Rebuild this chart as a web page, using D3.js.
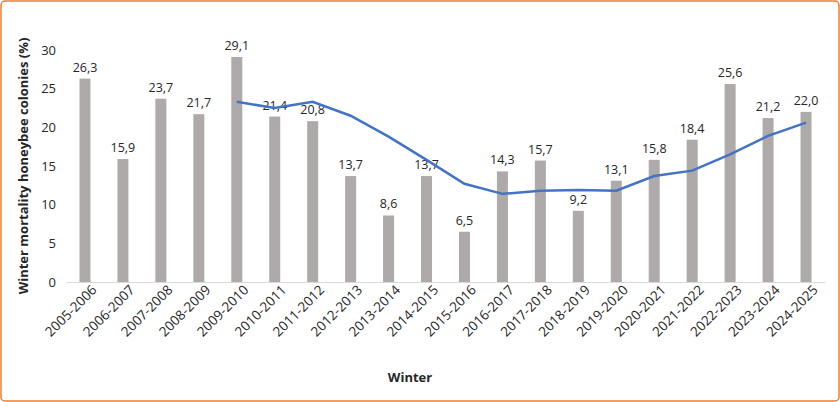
<!DOCTYPE html>
<html><head><meta charset="utf-8">
<script src="https://cdn.jsdelivr.net/npm/d3@7"></script>
<style>body{margin:0;background:#fff}text{font-family:"Open Sans",Arial,sans-serif}</style>
</head><body><svg id="chart" width="840" height="402"></svg>
<script>
// Winter mortality data
const winters = ["2005-2006","2006-2007","2007-2008","2008-2009","2009-2010","2010-2011","2011-2012","2012-2013","2013-2014","2014-2015","2015-2016","2016-2017","2017-2018","2018-2019","2019-2020","2020-2021","2021-2022","2022-2023","2023-2024","2024-2025"];
const mortality = [26.3,15.9,23.7,21.7,29.1,21.4,20.8,13.7,8.6,13.7,6.5,14.3,15.7,9.2,13.1,15.8,18.4,25.6,21.2,22.0];
const trendWinters = winters.slice(4);
const trend = [23.3,22.5,23.3,21.5,18.8,15.8,12.7,11.4,11.8,11.9,11.8,13.7,14.4,16.5,18.9,20.6];
const yTicks = [0,5,10,15,20,25,30];

const svg = d3.select("#chart");
svg.append("rect").attr("x",1).attr("y",1).attr("width",838).attr("height",400)
    .attr("rx",4).attr("fill","#fff").attr("stroke","#ed7d31").attr("stroke-width",1.5);

const x = d3.scaleBand().domain(winters).range([66, 825]).paddingInner(0.71).paddingOuter(0.355);
const y = d3.scaleLinear().domain([0, 30]).range([282, 50]);

// bars
svg.selectAll("rect.bar").data(winters).enter().append("rect")
    .attr("class","bar")
    .attr("x", d => x(d)).attr("width", x.bandwidth())
    .attr("y", (d,i) => y(mortality[i])).attr("height", (d,i) => y(0) - y(mortality[i]))
    .attr("fill","#aeaaaa");

// labels
svg.selectAll("text.val").data(winters).enter().append("text")
    .attr("x", d => x(d) + x.bandwidth()/2).attr("y", (d,i) => y(mortality[i]) - 7)
    .attr("text-anchor","middle").attr("font-size",12.5).attr("fill","#262626")
    .text((d,i) => mortality[i].toFixed(1).replace(".", ","));

// x axis
const xAxis = svg.append("g").attr("transform","translate(0,282)")
    .call(d3.axisBottom(x).tickSize(0));
xAxis.select(".domain").attr("stroke","#d9d9d9");
xAxis.selectAll("text").attr("font-size",13.5).attr("fill","#262626")
    .attr("text-anchor","end").attr("dx","0.2em").attr("dy","0.9em")
    .attr("transform","rotate(-45)");

// y axis
const yAxis = svg.append("g").attr("transform","translate(66,0)")
    .call(d3.axisLeft(y).tickValues(yTicks).tickSize(0).tickPadding(10));
yAxis.select(".domain").remove();
yAxis.selectAll("text").attr("font-size",13).attr("fill","#262626");

// trend line
const line = d3.line().x((d,i) => x(trendWinters[i]) + x.bandwidth()/2).y(d => y(d));
svg.append("path").datum(trend).attr("d", line)
    .attr("fill","none").attr("stroke","#4472c4").attr("stroke-width",2.5);

// titles
svg.append("text").attr("x",410).attr("y",382).attr("text-anchor","middle")
    .attr("font-size",13).attr("font-weight","bold").attr("fill","#262626").text("Winter");
svg.append("text").attr("transform","translate(28,166) rotate(-90)").attr("text-anchor","middle")
    .attr("font-size",13).attr("font-weight","bold").attr("fill","#262626")
    .text("Winter mortality honeybee colonies (%)");
</script></body></html>
